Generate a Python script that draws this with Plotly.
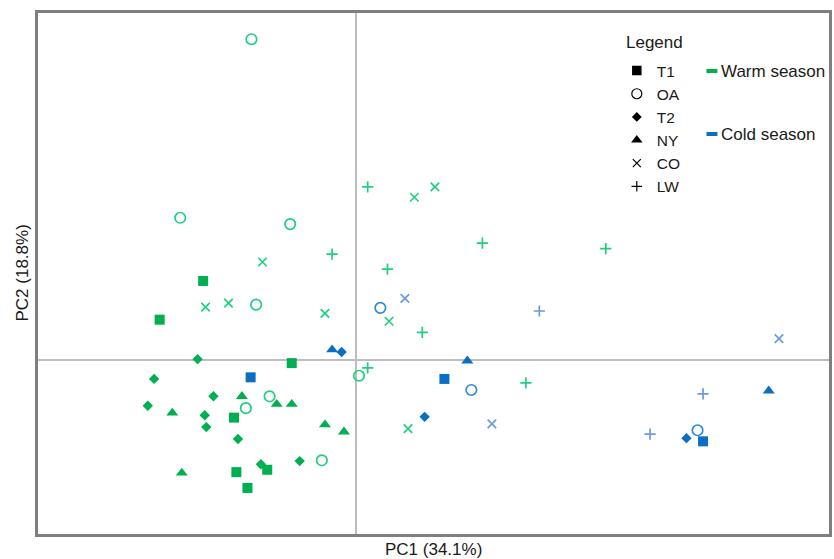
import plotly.graph_objects as go

# ---- data (PC1, PC2 scores) ----
# Warm season
warm_T1_x = [-1.93, -2.48, -0.81, -1.54, -1.12, -1.51, -1.37]
warm_T1_y = [1.00, 0.51, -0.04, -0.73, -1.39, -1.42, -1.62]
warm_OA_x = [-1.32, -2.22, -0.83, -1.26, -1.09, -1.39, -0.43, 0.04]
warm_OA_y = [4.06, 1.80, 1.72, 0.70, -0.46, -0.61, -1.27, -0.20]
warm_T2_x = [-2.00, -2.55, -1.80, -1.91, -1.89, -1.49, -1.20, -0.71, -2.63]
warm_T2_y = [0.01, -0.24, -0.46, -0.70, -0.85, -1.00, -1.32, -1.28, -0.58]
warm_NY_x = [-1.44, -1.00, -0.81, -2.32, -0.39, -0.15, -2.20]
warm_NY_y = [-0.46, -0.56, -0.56, -0.67, -0.82, -0.91, -1.43]
warm_CO_x = [-1.18, -1.90, -1.61, -0.39, 0.74, 1.00, 0.42, 0.66]
warm_CO_y = [1.24, 0.67, 0.72, 0.59, 2.06, 2.19, 0.49, -0.87]
warm_LW_x = [0.15, -0.30, 0.40, 1.60, 3.16, 0.84, 0.15, 2.15]
warm_LW_y = [2.19, 1.34, 1.15, 1.48, 1.41, 0.35, -0.10, -0.29]

# Cold season
cold_T1_x = [-1.33, 1.12, 4.39]
cold_T1_y = [-0.22, -0.24, -1.03]
cold_OA_x = [0.31, 1.46, 4.32]
cold_OA_y = [0.66, -0.38, -0.89]
cold_T2_x = [-0.18, 0.87, 4.18]
cold_T2_y = [0.10, -0.72, -0.99]
cold_NY_x = [-0.30, 1.41, 5.22]
cold_NY_y = [0.13, -0.01, -0.39]
cold_CO_x = [0.62, 1.72, 5.35]
cold_CO_y = [0.78, -0.81, 0.27]
cold_LW_x = [2.32, 4.39, 3.72]
cold_LW_y = [0.62, -0.43, -0.94]

group_names = ["T1", "OA", "T2", "NY", "CO", "LW"]
season_names = ["Warm season", "Cold season"]
axis_titles = ["PC1 (34.1%)", "PC2 (18.8%)"]
legend_title = "Legend"

# ---- styles ----
GREEN_FILL = "#00b050"
GREEN_LINE = "#1fcf80"
BLUE_FILL = "#0a6fc2"
BLUE_CIRC = "#2f8ad8"
BLUE_LINE = "#6b9bd8"

styles = {
    "T1": dict(symbol="square", size=10),
    "OA": dict(symbol="circle-open", size=10.5),
    "T2": dict(symbol="diamond", size=8),
    "NY": dict(symbol="triangle-up", size=10.5),
    "CO": dict(symbol="x-thin-open", size=8.5),
    "LW": dict(symbol="cross-thin-open", size=8),
}

warm = {"T1": (warm_T1_x, warm_T1_y), "OA": (warm_OA_x, warm_OA_y),
        "T2": (warm_T2_x, warm_T2_y), "NY": (warm_NY_x, warm_NY_y),
        "CO": (warm_CO_x, warm_CO_y), "LW": (warm_LW_x, warm_LW_y)}
cold = {"T1": (cold_T1_x, cold_T1_y), "OA": (cold_OA_x, cold_OA_y),
        "T2": (cold_T2_x, cold_T2_y), "NY": (cold_NY_x, cold_NY_y),
        "CO": (cold_CO_x, cold_CO_y), "LW": (cold_LW_x, cold_LW_y)}

OPEN = ("OA", "CO", "LW")


def marker_for(name, season):
    st = styles[name]
    if season == "warm":
        col = GREEN_FILL if name not in OPEN else GREEN_LINE
    else:
        if name not in OPEN:
            col = BLUE_FILL
        elif name == "OA":
            col = BLUE_CIRC
        else:
            col = BLUE_LINE
    return dict(symbol=st["symbol"], size=st["size"], color=col,
                line=dict(color=col, width=1.7 if name in OPEN else 0))


fig = go.Figure()

for season, data in (("warm", warm), ("cold", cold)):
    for name in group_names:
        xs, ys = data[name]
        fig.add_trace(go.Scatter(x=xs, y=ys, mode="markers", name=name,
                                 marker=marker_for(name, season),
                                 showlegend=False, hoverinfo="x+y+name"))

# legend entries for symbols (black)
for name in group_names:
    st = styles[name]
    fig.add_trace(go.Scatter(
        x=[None], y=[None], mode="markers", name=name, legend="legend",
        marker=dict(symbol=st["symbol"], size=st["size"] - 0.5, color="black",
                    line=dict(color="black", width=1.2 if name in OPEN else 0))))

font_family = "Liberation Sans, Arial, sans-serif"
FS = 17

W, H = 834, 559
ML, MR, MT, MB = 38, 2, 13, 25
PW = W - ML - MR
PH = H - MT - MB


def px(wx):  # window x -> paper x
    return (wx - ML) / PW


def py(wy):  # window y -> paper y
    return 1 - (wy - MT) / PH


annotations = [
    dict(text=axis_titles[0], xref="paper", yref="paper", x=0.5, y=0,
         yshift=-15, yanchor="middle", showarrow=False, font=dict(size=FS)),
    dict(text=axis_titles[1], xref="paper", yref="paper", x=0, y=0.5,
         xshift=-16, textangle=-90, xanchor="center", yanchor="middle",
         showarrow=False, font=dict(size=FS)),
    dict(text=legend_title, xref="paper", yref="paper", x=px(626), y=py(42),
         xanchor="left", yanchor="middle", showarrow=False, font=dict(size=FS)),
]
shapes = []
for sname, col, wy in zip(season_names, [GREEN_FILL, BLUE_FILL], [71, 134]):
    annotations.append(dict(text=sname, xref="paper", yref="paper", x=px(722),
                            y=py(wy), xanchor="left", yanchor="middle",
                            showarrow=False, font=dict(size=FS)))
    shapes.append(dict(type="line", xref="paper", yref="paper",
                       x0=px(709), x1=px(720), y0=py(wy), y1=py(wy),
                       line=dict(color=col, width=4)))

fig.update_layout(
    width=W, height=H,
    margin=dict(l=ML, r=MR, t=MT, b=MB),
    paper_bgcolor="white", plot_bgcolor="white",
    font=dict(family=font_family, size=FS, color="#1a1a1a"),
    xaxis=dict(range=[-4.018, 5.982], showgrid=False, showticklabels=False, ticks="",
               zeroline=True, zerolinecolor="#bdbdbd", zerolinewidth=2,
               showline=True, mirror=True, linecolor="#7f7f7f", linewidth=2.5),
    yaxis=dict(range=[-2.203, 4.392], showgrid=False, showticklabels=False, ticks="",
               zeroline=True, zerolinecolor="#bdbdbd", zerolinewidth=2,
               showline=True, mirror=True, linecolor="#7f7f7f", linewidth=2.5),
    legend=dict(x=px(619), y=py(54), xanchor="left", yanchor="top",
                bgcolor="rgba(0,0,0,0)", borderwidth=0,
                font=dict(size=15.5), tracegroupgap=0, itemwidth=30),
    annotations=annotations,
    shapes=shapes,
)

fig.write_html(
    "out.html",
    config={"displayModeBar": False},
    post_script=("document.body.style.margin='0';"
                 "document.body.style.overflow='hidden';"
                 "document.documentElement.style.overflow='hidden';"),
)
